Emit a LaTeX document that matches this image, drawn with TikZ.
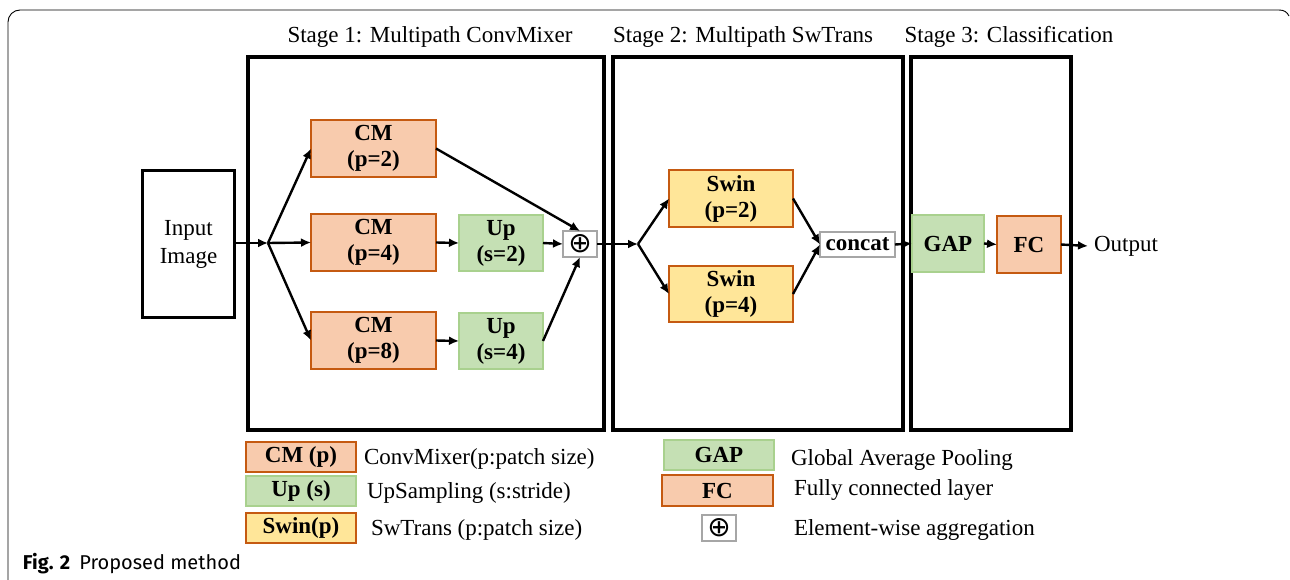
\documentclass[tikz,border=0pt]{standalone}
\usepackage{fontspec}
\setmainfont{Liberation Serif}
\newfontfamily\capfont{Fira Sans}
\newfontfamily\symfont{DejaVu Sans}
\usetikzlibrary{arrows.meta}
\definecolor{peachF}{HTML}{F8CBAD}
\definecolor{peachD}{HTML}{C55A11}
\definecolor{greenF}{HTML}{C5E0B4}
\definecolor{greenD}{HTML}{A9D18E}
\definecolor{yellF}{HTML}{FFE699}
\definecolor{grayD}{HTML}{A6A6A6}
\tikzset{
  every node/.style={inner sep=0pt, outer sep=0pt},
  txt/.style={font=\fontsize{23}{28}\selectfont},
  lbl/.style={font=\bfseries\fontsize{23}{26}\selectfont, align=center},
  cmbox/.style={lbl, draw=peachD, fill=peachF, line width=1.4pt},
  upbox/.style={lbl, draw=greenD, fill=greenF, line width=1.4pt},
  swbox/.style={lbl, draw=peachD, fill=yellF, line width=1.4pt},
  graybox/.style={lbl, draw=grayD, fill=white, line width=1.2pt},
  plusbox/.style={draw=grayD, fill=white, line width=1.2pt, font=\symfont\fontsize{28}{28}\selectfont},
  stagebox/.style={draw=black, line width=3.8pt},
  arr/.style={line width=2.4pt, -{Latex[length=10pt,width=9pt]}}
}
\begin{document}
\begin{tikzpicture}[x=1pt,y=-1pt]
\useasboundingbox (0,0) rectangle (1290,580);
% outer frame
\draw[line width=0.9pt] (8,580) -- (8,22) arc[start angle=180,end angle=270,radius=12] -- (1279,10) .. controls (1284,10) and (1287,12) .. (1289,16);

% stage titles
\node[txt] (t1) at (430,37) {Stage 1: Multipath ConvMixer};
\node[txt] (t2) at (743,37) {Stage 2: Multipath SwTrans};
\node[txt] (t3) at (1009,37) {Stage 3: Classification};

% stage boxes
\draw[stagebox] (248,57) rectangle (604,430);
\draw[stagebox] (613,57) rectangle (903,430);
\draw[stagebox] (911,57) rectangle (1071,430);

% input
\node[txt, draw=black, line width=3.2pt, minimum width=92pt, minimum height=147pt, align=center] (in) at (188.5,244) {Input\\Image};

% stage 1 nodes
\node[cmbox, minimum width=125pt, minimum height=57pt] (cm2) at (373.5,148.5) {CM\\(p=2)};
\node[cmbox, minimum width=125pt, minimum height=57pt] (cm4) at (373.5,242.5) {CM\\(p=4)};
\node[cmbox, minimum width=125pt, minimum height=57pt] (cm8) at (373.5,340.5) {CM\\(p=8)};
\node[upbox, minimum width=84pt, minimum height=56pt] (up2) at (501,243) {Up\\(s=2)};
\node[upbox, minimum width=84pt, minimum height=56pt] (up4) at (501,341) {Up\\(s=4)};
\node[plusbox, minimum width=34pt, minimum height=26pt] (plus) at (580,244) {⊕};
\coordinate (b1) at (268,243);

\draw[arr] (in.east |- b1) -- (b1);
\draw[arr] (b1) -- (cm2.west);
\draw[arr] (b1) -- (cm4.west);
\draw[arr] (b1) -- (cm8.west);
\draw[arr] (cm4.east) -- (up2.west);
\draw[arr] (cm8.east) -- (up4.west);
\draw[arr] (cm2.east) -- (plus.north);
\draw[arr] (up2.east) -- (plus.west);
\draw[arr] (up4.east) -- (plus.south);

% stage 2
\coordinate (b2) at (638,244);
\node[swbox, minimum width=124pt, minimum height=57pt] (sw2) at (731,198.5) {Swin\\(p=2)};
\node[swbox, minimum width=124pt, minimum height=56pt] (sw4) at (731,294) {Swin\\(p=4)};
\node[graybox, minimum width=75pt, minimum height=25pt] (cc) at (857.5,244.5) {concat};
\draw[arr] (plus.east) -- (b2);
\draw[arr] (b2) -- (sw2.west);
\draw[arr] (b2) -- (sw4.west);
\draw[arr] (sw2.east) -- (cc.west);
\draw[arr] (sw4.east) -- (cc.west);

% stage 3
\node[upbox, minimum width=72pt, minimum height=57pt] (gap) at (948,243.5) {GAP};
\node[cmbox, minimum width=64pt, minimum height=57pt] (fc) at (1029,244.5) {FC};
\node[txt, anchor=west] (out) at (1094,246) {Output};
\draw[arr] (cc.east) -- (gap.west);
\draw[arr] (gap.east) -- (fc.west);
\draw[arr] (fc.east) -- ([xshift=-6pt]out.west);

% legend
\node[cmbox, minimum width=110pt, minimum height=30pt] (lcm) at (301,457) {CM (p)};
\node[upbox, minimum width=110pt, minimum height=30pt] (lup) at (301,491) {Up (s)};
\node[swbox, minimum width=110pt, minimum height=30pt] (lsw) at (301,528) {Swin(p)};
\node[txt, anchor=west] (dcm) at (364,459) {ConvMixer(p:patch size)};
\node[txt, anchor=west] (dup) at (367,493) {UpSampling (s:stride)};
\node[txt, anchor=west] (dsw) at (371,530) {SwTrans (p:patch size)};

\node[upbox, minimum width=110pt, minimum height=30pt] (lgap) at (719,455) {GAP};
\node[cmbox, minimum width=111pt, minimum height=31pt] (lfc) at (717.5,490.5) {FC};
\node[plusbox, minimum width=34pt, minimum height=26pt] (lplus) at (719,528) {⊕};
\node[txt, anchor=west] (dgap) at (791,460) {Global Average Pooling};
\node[txt, anchor=west] (dfc) at (794,490) {Fully connected layer};
\node[txt, anchor=west] (dplus) at (794,530) {Element-wise aggregation};

% caption
\node[anchor=west, font=\capfont\fontsize{20}{22}\selectfont] (cap) at (23,564) {\textbf{Fig. 2}\hspace{9pt}Proposed method};
\end{tikzpicture}
\end{document}
